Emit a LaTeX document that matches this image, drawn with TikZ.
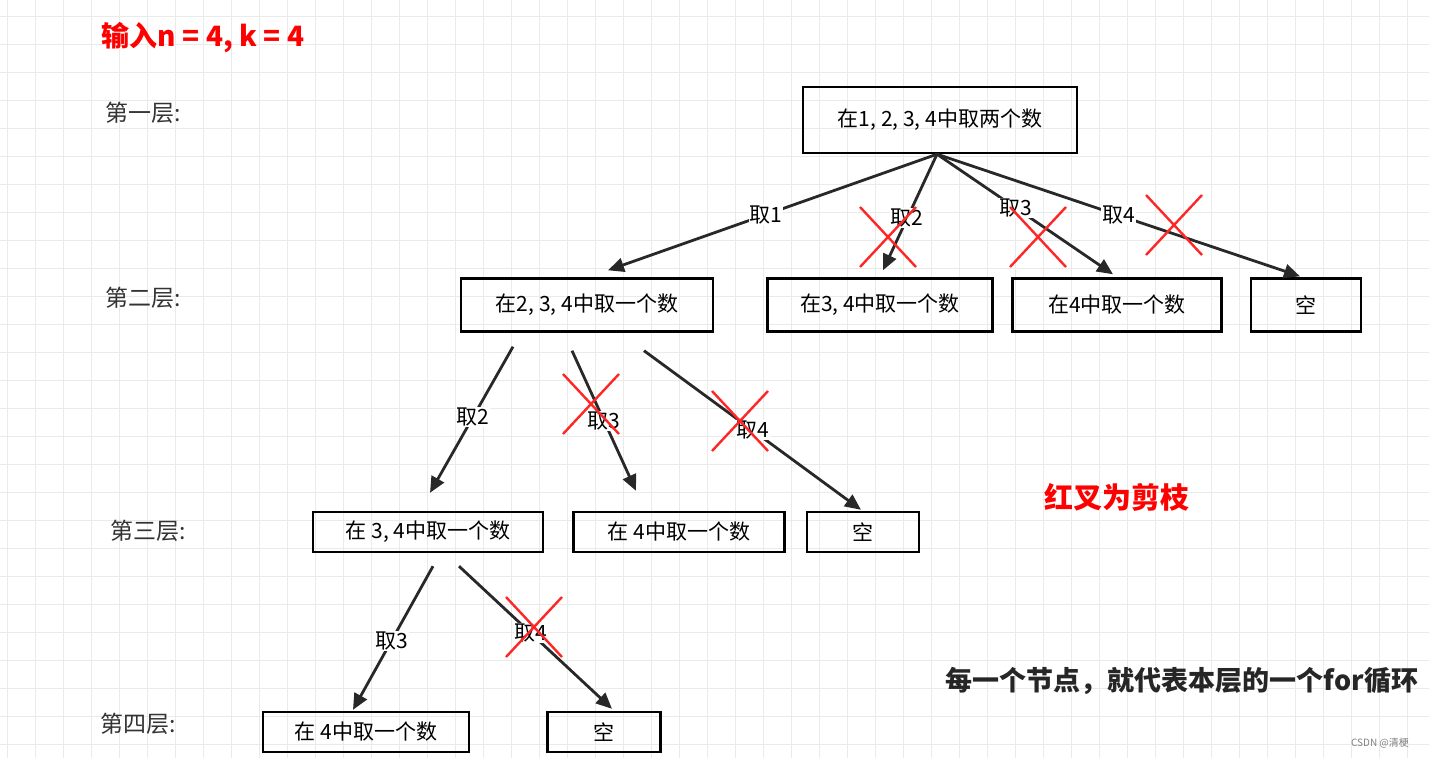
\documentclass[tikz,border=0pt]{standalone}
\usepackage{fontspec}
\setmainfont{Noto Sans CJK SC}
\usetikzlibrary{arrows.meta}
\definecolor{gridc}{RGB}{234,234,234}
\definecolor{edgec}{RGB}{40,40,40}
\tikzset{
	box/.style={draw=black, line width=2.4pt, minimum height=40pt, inner xsep=6pt, font=\fontsize{21}{21}\selectfont},
	layer/.style={font=\fontsize{23}{23}\selectfont, text=black!80},
	take/.style={->, draw=edgec, line width=2.8pt, >={Triangle[length=16pt,width=14pt]}},
	lbl/.style={fill=white, inner sep=1pt, font=\fontsize{21}{21}\selectfont},
	cut/.style={draw=red!85!white, line width=2.4pt}}
\newcommand{\redx}[1]{\draw[cut] ($(#1)+(-28,-30)$) -- ($(#1)+(28,30)$) ($(#1)+(-28,30)$) -- ($(#1)+(28,-30)$);}
\usetikzlibrary{calc}
\begin{document}
\begin{tikzpicture}[x=1pt,y=-1pt]
	\useasboundingbox (0,0) rectangle (1429,758);
	% grid
	\foreach \gx in {7,35,...,1429} \draw[gridc, line width=1pt] (\gx,0) -- (\gx,758);
	\foreach \gy in {16,44,...,758} \draw[gridc, line width=1pt] (0,\gy) -- (1429,\gy);

	% titles
	\node[text=red, font=\bfseries\fontsize{28}{28}\selectfont] (title) at (203,38) {输入n = 4, k = 4};
	\node[layer] (l1) at (143,113) {第一层:};
	\node[layer] (l2) at (143,298) {第二层:};
	\node[layer] (l3) at (148,531) {第三层:};
	\node[layer] (l4) at (138,724) {第四层:};
	\node[text=red, font=\bfseries\fontsize{29}{29}\selectfont] (note) at (1117,497) {红叉为剪枝};
	\node[font=\bfseries\fontsize{27}{27}\selectfont, text=black!85] (desc) at (1182,681) {每一个节点，就代表本层的一个for循环};
	\node[text=gray, font=\fontsize{10}{10}\selectfont] (mark) at (1380,743) {CSDN @清梗};

	% nodes
	\node[box, minimum width=274pt, minimum height=66pt] (root) at (940,120) {在1, 2, 3, 4中取两个数};
	\node[box, minimum width=252pt, minimum height=53pt] (a) at (587,305) {在2, 3, 4中取一个数};
	\node[box, minimum width=225pt, minimum height=53pt] (b) at (880,305) {在3, 4中取一个数};
	\node[box, minimum width=209pt, minimum height=53pt] (c) at (1117,305) {在4中取一个数};
	\node[box, minimum width=110pt, minimum height=53pt] (d) at (1306,305) {空};
	\node[box, minimum width=230pt] (e) at (428,532) {在 3, 4中取一个数};
	\node[box, minimum width=211pt] (f) at (679,532) {在 4中取一个数};
	\node[box, minimum width=112pt] (g) at (863,532) {空};
	\node[box, minimum width=206pt] (h) at (366,732) {在 4中取一个数};
	\node[box, minimum width=113pt] (i) at (604,732) {空};

	% level 1 -> 2
	\coordinate (r0) at ($(root.south)+(-3,0)$);
	\draw[take] (r0) -- ($(a.north)+(21,-7)$) node[lbl, pos=0.52] {取1};
	\draw[take] (r0) -- ($(b.north)+(3,-7)$) node[lbl, pos=0.55] {取2};
	\draw[take] (r0) -- ($(c.north)+(-4,-3)$) node[lbl, pos=0.45] {取3};
	\draw[take] (r0) -- ($(d.north)+(-6,-1)$) node[lbl, pos=0.5] {取4};
	\redx{888,237}
	\redx{1038,237}
	\redx{1174,225}

	% level 2 -> 3
	\draw[take] ($(a.south)+(-74,14)$) -- ($(e.north)+(2,-18)$) node[lbl, pos=0.48] {取2};
	\draw[take] ($(a.south)+(-15,18)$) -- ($(f.north)+(-43,-20)$) node[lbl, pos=0.5] {取3};
	\draw[take] ($(a.south)+(57,18)$) -- ($(g.north)+(-2,-1)$) node[lbl, pos=0.5] {取4};
	\redx{591,404}
	\redx{740,421}

	% level 3 -> 4
	\draw[take] ($(e.south)+(5,13)$) -- ($(h.north)+(-13,-1)$) node[lbl, pos=0.52] {取3};
	\draw[take] ($(e.south)+(31,13)$) -- ($(i.north)+(8,-2)$) node[lbl, pos=0.47] {取4};
	\redx{534,627}
\end{tikzpicture}
\end{document}
